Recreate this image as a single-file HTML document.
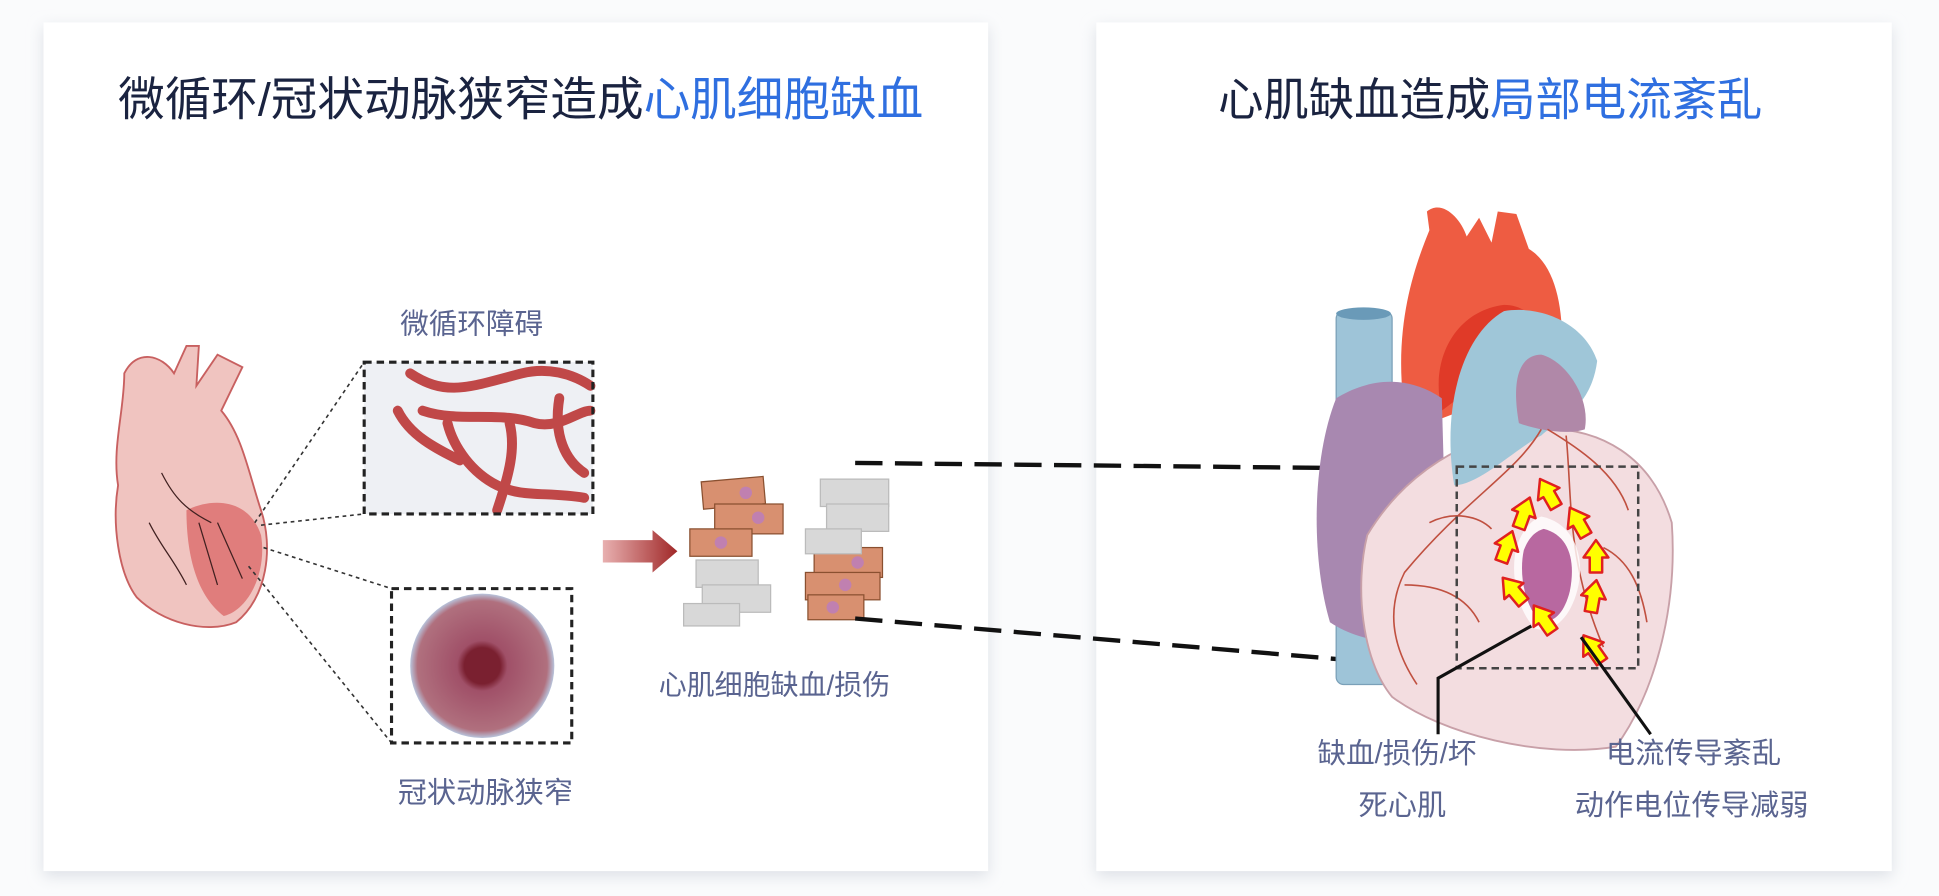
<!DOCTYPE html>
<html><head><meta charset="utf-8"><style>
html,body{margin:0;padding:0;background:#f7f8fa;}
svg{display:block;}
text{font-family:"Liberation Sans","Noto Sans CJK SC",sans-serif;}
</style></head><body>
<svg width="1939" height="896" viewBox="0 0 1560 720" preserveAspectRatio="none" xmlns="http://www.w3.org/2000/svg">
<defs>
<filter id="sh" x="-5%" y="-5%" width="110%" height="110%"><feGaussianBlur stdDeviation="6"/></filter>
<linearGradient id="ar" x1="0" x2="1"><stop offset="0" stop-color="#e8b0b0"/><stop offset="1" stop-color="#a02828"/></linearGradient>
<radialGradient id="art"><stop offset="0.25" stop-color="#7a2030"/><stop offset="0.35" stop-color="#a05068"/><stop offset="0.9" stop-color="#b0707e"/><stop offset="1" stop-color="#b8c4dc"/></radialGradient>
</defs>
<rect width="1560" height="720" fill="#fafbfc"/>
<rect x="35" y="22" width="760" height="682" fill="#dde0e6" filter="url(#sh)"/>
<rect x="882" y="22" width="640" height="682" fill="#dde0e6" filter="url(#sh)"/>
<rect x="35" y="18" width="760" height="682" fill="#fff"/>
<rect x="882" y="18" width="640" height="682" fill="#fff"/>

<text x="95" y="93" font-size="37.5" fill="#1a2340">微循环/冠状动脉狭窄造成<tspan fill="#2f6fe0">心肌细胞缺血</tspan></text>
<text x="980" y="93" font-size="36.5" fill="#1a2340">心肌缺血造成<tspan fill="#2f6fe0">局部电流紊乱</tspan></text>

<!-- small heart -->
<g>
<path d="M100,300 C110,280 130,285 140,300 L150,278 L160,278 L158,310 L175,285 L195,295 L178,330 C195,350 200,380 210,410 C220,440 215,480 190,500 C165,510 130,500 110,480 C95,460 90,420 95,390 C90,360 100,330 100,300 Z" fill="#f0c4c0" stroke="#c86060" stroke-width="1.5"/>
<path d="M150,410 C170,400 200,400 210,430 C215,460 200,490 180,495 C160,480 150,450 150,410Z" fill="#d86060" opacity="0.7"/>
<path d="M160,420 L175,470 M175,420 L195,465 M120,420 C130,440 140,450 150,470 M130,380 C140,400 150,410 170,420" stroke="#402020" stroke-width="1" fill="none"/>
</g>
<g stroke="#333" stroke-width="1.3" stroke-dasharray="3,3" fill="none">
<line x1="205" y1="420" x2="293" y2="291"/><line x1="210" y1="422" x2="293" y2="413"/>
<line x1="212" y1="440" x2="315" y2="473"/><line x1="200" y1="455" x2="315" y2="597"/>
</g>
<!-- microcirc box -->
<rect x="293" y="291" width="184" height="122" fill="#eef0f4"/>
<g stroke="#c04848" stroke-width="8" fill="none" stroke-linecap="round">
<path d="M330,300 C360,320 380,310 420,300 C440,295 460,300 475,310"/>
<path d="M340,330 C370,340 400,330 430,340 C450,345 465,330 475,330"/>
<path d="M360,340 C365,360 380,380 400,390 C420,400 440,395 470,400"/>
<path d="M410,340 C415,360 410,380 400,410"/><path d="M450,320 C445,350 455,370 470,380"/>
<path d="M320,330 C330,350 350,360 370,370"/>
</g>
<rect x="293" y="291" width="184" height="122" fill="none" stroke="#222" stroke-width="2.5" stroke-dasharray="6,4"/>
<!-- artery box -->
<circle cx="388" cy="535" r="58" fill="url(#art)"/>
<rect x="315" y="473" width="145" height="124" fill="none" stroke="#222" stroke-width="2.5" stroke-dasharray="6,4"/>
<text x="322" y="268" font-size="23" fill="#5a6490">微循环障碍</text>
<text x="320" y="645" font-size="23.5" fill="#5a6490">冠状动脉狭窄</text>
<!-- arrow -->
<path d="M485,434 L525,434 L525,426 L545,443 L525,460 L525,452 L485,452 Z" fill="url(#ar)"/>
<!-- cells -->
<g stroke="#8a5030" stroke-width="1">
<rect x="565" y="385" width="50" height="22" fill="#d89070" transform="rotate(-5 590 396)"/>
<rect x="575" y="405" width="55" height="24" fill="#d89070"/>
<rect x="555" y="425" width="50" height="22" fill="#d89070"/>
<rect x="655" y="440" width="55" height="24" fill="#d89070"/>
<rect x="648" y="460" width="60" height="22" fill="#d89070"/>
<rect x="650" y="478" width="45" height="20" fill="#d89070"/>
</g>
<g fill="#d8d8d8" stroke="#bbb">
<rect x="660" y="385" width="55" height="22"/><rect x="665" y="405" width="50" height="22"/><rect x="648" y="425" width="45" height="20"/>
<rect x="560" y="450" width="50" height="22"/><rect x="565" y="470" width="55" height="22"/><rect x="550" y="485" width="45" height="18"/>
</g>
<g fill="#c080b0"><circle cx="600" cy="396" r="5"/><circle cx="610" cy="416" r="5"/><circle cx="580" cy="436" r="5"/><circle cx="690" cy="452" r="5"/><circle cx="680" cy="470" r="5"/><circle cx="670" cy="488" r="5"/></g>
<text x="530" y="558" font-size="22.5" fill="#5a6490">心肌细胞缺血/损伤</text>
<!-- long dashed -->
<g stroke="#111" stroke-width="3.5" stroke-dasharray="22,10" fill="none">
<line x1="688" y1="372" x2="1160" y2="377"/><line x1="688" y1="497" x2="1140" y2="535"/>
</g>
<!-- right heart -->
<rect x="1075" y="250" width="45" height="300" rx="6" fill="#9ec4d8" stroke="#7aa0b8"/>
<ellipse cx="1097" cy="252" rx="22" ry="5" fill="#6a9ab8"/>
<path d="M1130,330 C1120,260 1140,210 1150,185 L1148,170 C1160,160 1175,175 1180,190 L1190,175 L1200,195 L1205,170 L1220,172 L1230,200 C1255,215 1260,260 1255,300 L1150,340 Z" fill="#ee5c42"/>
<path d="M1160,330 C1150,290 1170,250 1210,245 C1235,245 1245,270 1245,290 L1200,300 Z" fill="#e03a28"/>
<path d="M1075,320 C1100,305 1130,300 1160,320 L1165,500 C1140,520 1100,520 1070,500 C1055,450 1055,370 1075,320 Z" fill="#a888b0"/>
<path d="M1100,430 C1130,380 1180,350 1230,345 C1290,340 1330,370 1345,420 C1350,490 1330,560 1300,600 C1240,610 1160,590 1120,560 C1095,530 1090,470 1100,430 Z" fill="#f3dde0" stroke="#c8a0a8" stroke-width="1.5"/>
<path d="M1170,390 C1160,330 1175,270 1210,250 C1240,245 1275,260 1285,290 C1280,330 1250,340 1240,350 C1220,360 1190,390 1170,390 Z" fill="#9fc6d8"/>
<path d="M1222,340 C1215,300 1225,285 1240,285 C1260,290 1280,320 1275,345 C1260,350 1235,345 1222,340Z" fill="#b088a8"/>
<g stroke="#c05040" stroke-width="1.3" fill="none">
<path d="M1240,345 C1220,380 1180,400 1130,460 C1115,490 1120,520 1140,550"/>
<path d="M1245,345 C1270,360 1300,380 1310,410"/>
<path d="M1260,350 C1265,400 1260,450 1290,520 M1150,420 C1170,410 1190,415 1200,425 M1130,470 C1160,470 1180,480 1190,500 M1290,440 C1310,450 1320,470 1325,500"/>
</g>
<rect x="1172" y="375" width="146" height="162" fill="none" stroke="#444" stroke-width="2" stroke-dasharray="6,4"/>
<path d="M1240,415 C1265,420 1275,445 1270,470 C1265,495 1250,510 1235,505 C1220,490 1215,460 1220,440 C1225,425 1232,418 1240,415Z" fill="#fff" opacity="0.8"/>
<path d="M1242,425 C1262,430 1268,450 1263,475 C1258,495 1248,502 1238,498 C1226,485 1222,460 1226,442 C1230,432 1235,427 1242,425Z" fill="#b868a0"/>
<g fill="#ffff00" stroke="#e02020" stroke-width="2" stroke-linejoin="round">
<g transform="translate(1246,397) rotate(-30)"><path d="M-5,12 L-5,0 L-10,0 L0,-14 L10,0 L5,0 L5,12 Z"/></g>
<g transform="translate(1226,413) rotate(20)"><path d="M-5,12 L-5,0 L-10,0 L0,-14 L10,0 L5,0 L5,12 Z"/></g>
<g transform="translate(1270,420) rotate(-30)"><path d="M-5,12 L-5,0 L-10,0 L0,-14 L10,0 L5,0 L5,12 Z"/></g>
<g transform="translate(1212,440) rotate(20)"><path d="M-5,12 L-5,0 L-10,0 L0,-14 L10,0 L5,0 L5,12 Z"/></g>
<g transform="translate(1284,448) rotate(0)"><path d="M-5,12 L-5,0 L-10,0 L0,-14 L10,0 L5,0 L5,12 Z"/></g>
<g transform="translate(1218,475) rotate(-40)"><path d="M-5,12 L-5,0 L-10,0 L0,-14 L10,0 L5,0 L5,12 Z"/></g>
<g transform="translate(1282,480) rotate(10)"><path d="M-5,12 L-5,0 L-10,0 L0,-14 L10,0 L5,0 L5,12 Z"/></g>
<g transform="translate(1242,498) rotate(-35)"><path d="M-5,12 L-5,0 L-10,0 L0,-14 L10,0 L5,0 L5,12 Z"/></g>
<g transform="translate(1282,522) rotate(-35)"><path d="M-5,12 L-5,0 L-10,0 L0,-14 L10,0 L5,0 L5,12 Z"/></g>
</g>
<g stroke="#111" stroke-width="2.5" fill="none">
<path d="M1232,503 L1157,545 L1157,590"/>
<path d="M1272,512 L1328,590"/>
</g>
<text x="1060" y="613" font-size="23" fill="#5a6490">缺血/损伤/坏</text>
<text x="1093" y="655" font-size="23.5" fill="#5a6490">死心肌</text>
<text x="1292" y="613" font-size="23.5" fill="#5a6490">电流传导紊乱</text>
<text x="1267" y="655" font-size="23.5" fill="#5a6490">动作电位传导减弱</text>
</svg>
</body></html>
